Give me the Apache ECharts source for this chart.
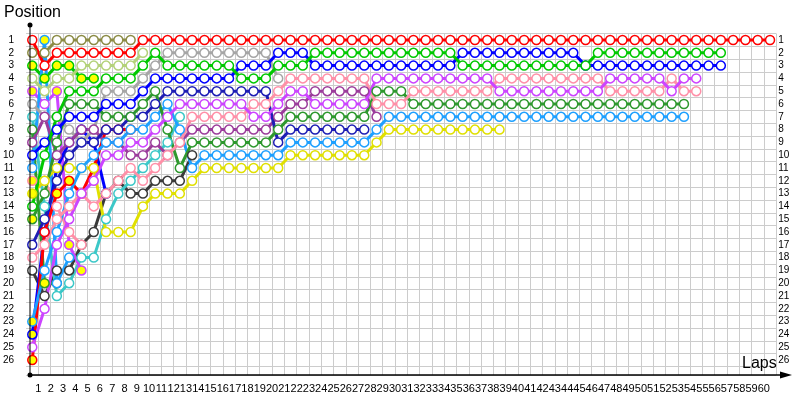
<!DOCTYPE html>
<html><head><meta charset="utf-8">
<script src="https://cdn.jsdelivr.net/npm/echarts@6/dist/echarts.min.js"></script>
<style>html,body{margin:0;padding:0;background:#fff}#c{width:800px;height:400px}</style>
</head><body><div id="c"></div>
<script>
// ---- tick labels ----
const lapLabels = [1,2,3,4,5,6,7,8,9,10,11,12,13,14,15,16,17,18,19,20,21,22,23,24,25,26,27,28,29,30,31,32,33,34,35,36,37,38,39,40,41,42,43,44,45,46,47,48,49,50,51,52,53,54,55,56,57,58,59,60];
const positionLabels = [1,2,3,4,5,6,7,8,9,10,11,12,13,14,15,16,17,18,19,20,21,22,23,24,25,26];

// ---- positions per lap (index = lap, from lap 0 = grid) ----
const red1 = [1,3,2,2,2,2,2,2,2,1, 1,1,1,1,1,1,1,1,1,1, 1,1,1,1,1,1,1,1,1,1, 1,1,1,1,1,1,1,1,1,1, 1,1,1,1,1,1,1,1,1,1, 1,1,1,1,1,1,1,1,1,1, 1];
const olive = [2,2,1,1,1,1,1,1,1];
const greenA = [3,4,3,3,4,4];
const yellowGreen = [4,5,4,4,3,3,3,3,3,2];
const violetA = [5,6,5,17,19];
const gray = [6,7,7,8,9,8,5,5,5,4, 3,2,2,2,2,2,2,2,2,2, 4];
const turquoise = [7,14,21,20,18,18,15,13,12,11, 10,9,7];
const forestGreenB = [8,20,20];
const purple = [9,7,10,9,8,8,9,9,10,10, 9,10,9,8,8,8,8,8,8,8, 7,6,6,5,5,5,5,5,7];
const blue = [10,9,8,7,7,7,6,6,6,5, 4,4,4,4,4,4,4,3,3,3, 2,2,2,3,3,3,3,3,3,3, 3,3,3,3,3,2,2,2,2,2, 2,2,2,2,2,3,3,3,3,3, 3,3,3,3,3,3,3];
const skyBlueB = [11,1,20,18];
const pinkA = [12,12,14,16,17];
const yellow = [13,12,11,11,11,11,16,16,16,14, 13,13,13,12,11,11,11,11,11,11, 11,10,10,10,10,10,10,10,9,8, 8,8,8,8,8,8,8,8,8];
const green = [14,10,7,5,5,5,4,4,4,3, 2,3,3,3,3,3,3,4,4,4, 3,3,3,2,2,2,2,2,2,2, 2,2,2,2,2,3,3,3,3,3, 3,3,3,3,3,3,2,2,2,2, 2,2,2,2,2,2,2];
const forestGreen = [15,13,9,6,6,6,7,7,7,6, 5,8,11,9,9,9,9,9,9,9, 8,7,7,7,7,7,7,7,5,5, 5,6,6,6,6,6,6,6,6,6, 6,6,6,6,6,6,6,6,6,6, 6,6,6,6];
const darkBlue = [17,15,12,10,9,9,8,8,7,7, 6,5,5,5,5,5,5,5,5,5, 9,8,8,8,8,8,8,8];
const pink = [18,17,15,14,13,14,13,12,11,12, 11,10,9,7,7,7,7,7,6,6, 5,4,4,4,4,4,4,4,6,6, 6,5,5,5,5,5,5,5,4,4, 4,4,4,4,4,4,4,5,5,5, 5,5,4,5,5];
const darkGray = [19,21,19,19,17,16,13,12,13,13, 12,12,12,10];
const skyBlue = [23,19,16,13,11,10,9,9,8,8, 7,6,8,11,10,10,10,10,10,10, 10,9,9,9,9,9,9,9,8,7, 7,7,7,7,7,7,7,7,7,7, 7,7,7,7,7,7,7,7,7,7, 7,7,7,7];
const blueB = [24,16,11,9,8,9,13];
const violet = [25,22,17,15,13,12,10,10,9,9, 8,7,6,6,6,6,6,6,7,7, 6,5,5,6,6,6,6,6,4,4, 4,4,4,4,4,4,4,4,5,5, 5,5,5,5,5,5,5,4,4,4, 4,4,5,4,4];
const redB = [26,16,13,12,13,11,8,8,8];

// laps drawn with a yellow-filled marker
const yellowMarks = {
  greenA: [0,1,2,3,4,5], violetA: [0,2,3,4], pinkA: [0], yellow: [0], forestGreen: [0],
  forestGreenB: [1,2], skyBlueB: [1], skyBlue: [0], blueB: [0,3,5], redB: [0,2,3,4,5,6,7,8]
};

const drivers = [
  ['darkGray', darkGray, '#3a3a3a'],
  ['turquoise', turquoise, '#3cc8c8'],
  ['forestGreenB', forestGreenB, '#2e982e'],
  ['pinkA', pinkA, '#ff90a8'],
  ['violetA', violetA, '#cc44ff'],
  ['greenA', greenA, '#00c800'],
  ['skyBlueB', skyBlueB, '#1ea0ff'],
  ['blueB', blueB, '#0000ff'],
  ['yellowGreen', yellowGreen, '#b4d27a'],
  ['olive', olive, '#8c8c46'],
  ['gray', gray, '#a6a6a6'],
  ['redB', redB, '#ff0000'],
  ['yellow', yellow, '#e0e000'],
  ['purple', purple, '#9b3c9b'],
  ['darkBlue', darkBlue, '#1e1eb4'],
  ['skyBlue', skyBlue, '#1ea0ff'],
  ['forestGreen', forestGreen, '#2e982e'],
  ['pink', pink, '#ff90a8'],
  ['violet', violet, '#cc44ff'],
  ['blue', blue, '#0000ff'],
  ['green', green, '#00c800'],
  ['red1', red1, '#ff0000']
];

const series = drivers.map(([name, pos, color]) => ({
  name, type: 'line', symbol: 'circle', symbolSize: 9,
  lineStyle: { color, width: 3 },
  itemStyle: { color: '#ffffff', borderColor: color, borderWidth: 1.5 },
  emphasis: { disabled: true },
  data: pos.map((p, lap) => {
    const y = (yellowMarks[name] || []).includes(lap);
    return y ? { value: [lap, p], itemStyle: { color: '#ffff00' } } : [lap, p];
  })
}));

const chart = echarts.init(document.getElementById('c'), null, { renderer: 'canvas' });
const font = 'Liberation Sans';
chart.setOption({
  animation: false,
  backgroundColor: '#ffffff',
  grid: { left: 23.83, right: 23.83, top: 33.6, bottom: 25 },
  xAxis: {
    type: 'value', min: -0.5, max: 60.5, interval: 1,
    axisLine: { show: false }, axisTick: { show: false },
    splitLine: { show: true, showMinLine: false, lineStyle: { color: '#cccccc', width: 1 } },
    axisLabel: {
      color: '#000', fontFamily: font, fontSize: 11, margin: 8,
      formatter: v => { const i = Math.round(v + 0.5); return lapLabels.includes(i) ? String(i) : ''; }
    }
  },
  yAxis: [{
    type: 'value', inverse: true, min: 0.5, max: 27.17, interval: 1, position: 'left',
    axisLine: { show: false }, axisTick: { show: false },
    splitLine: { show: true, lineStyle: { color: '#cccccc', width: 1 } },
    axisLabel: { color: '#000', fontFamily: font, fontSize: 10, margin: 12, customValues: positionLabels }
  }, {
    type: 'value', inverse: true, min: 0.5, max: 27.17, interval: 1, position: 'right',
    axisLine: { show: false }, axisTick: { show: false }, splitLine: { show: false },
    axisLabel: { color: '#000', fontFamily: font, fontSize: 10, margin: 2, customValues: positionLabels }
  }],
  graphic: [
    { type: 'line', shape: { x1: 30, y1: 375, x2: 30, y2: 25 }, style: { stroke: '#000', lineWidth: 1 }, z: 100 },
    { type: 'circle', shape: { cx: 30, cy: 25, r: 2.5 }, style: { fill: '#000' }, z: 100 },
    { type: 'circle', shape: { cx: 30, cy: 375, r: 2.5 }, style: { fill: '#000' }, z: 100 },
    { type: 'line', shape: { x1: 30, y1: 375, x2: 784, y2: 375 }, style: { stroke: '#000', lineWidth: 1.5 }, z: 100 },
    { type: 'polygon', shape: { points: [[780, 371.5], [792, 375], [780, 378.5]] }, style: { fill: '#000' }, z: 100 },
    { type: 'text', left: 4, top: 5, style: { text: 'Position', font: '16px "Liberation Sans"', fill: '#000' }, z: 100 },
    { type: 'text', left: 742, top: 356, style: { text: 'Laps', font: '16px "Liberation Sans"', fill: '#000' }, z: 100 }
  ],
  series
});
</script></body></html>
